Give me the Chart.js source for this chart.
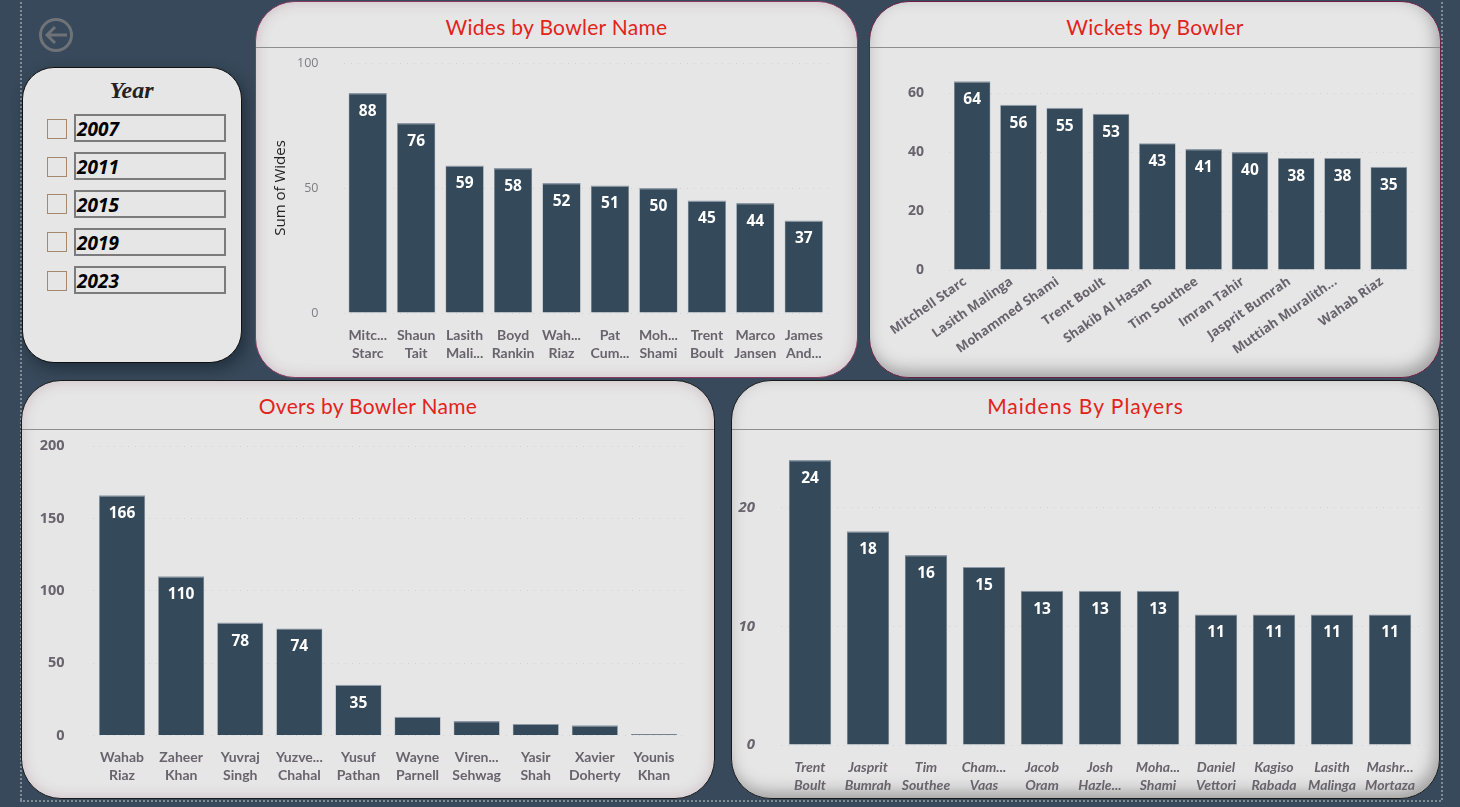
<!DOCTYPE html>
<html><head><meta charset="utf-8">
<script src="https://cdn.jsdelivr.net/npm/chart.js@4"></script>
<style>
html,body{margin:0;padding:0;width:1460px;height:807px;overflow:hidden;background:#37495a}
.dot{position:absolute;border:0 dotted #7f8c98}
.panel{position:absolute;background:#e6e6e6;box-sizing:border-box;border-radius:40px;overflow:hidden}
.pink{border:1px solid #8a3a60;box-shadow:inset 0 0 14px rgba(130,70,100,.26)}
.grey{border:1px solid #6d1f45;box-shadow:inset -4px -6px 16px rgba(60,60,60,.42)}
.black{border:1px solid #1a1a1a}
.title{position:absolute;left:0;right:0;top:0;height:45px;text-align:center;color:#e2231a;font:21px/50px "Lato",sans-serif;letter-spacing:.3px;border-bottom:1px solid #8e8e8e}
canvas{position:absolute}
#slicer{position:absolute;left:21.5px;top:66.5px;width:220px;height:296px;box-sizing:border-box;background:#e6e6e6;border:1px solid #111;border-radius:32px;box-shadow:4px 6px 14px rgba(20,30,40,.55)}
#yr{position:absolute;left:0;right:0;top:9px;text-align:center;font:italic bold 24px "Liberation Serif",serif;color:#222}
.cb{position:absolute;width:18px;height:18px;border:1px solid #a5896f;left:24px;box-sizing:content-box}
.yb{position:absolute;left:51.5px;width:152px;height:28px;box-sizing:border-box;border:2px solid #7b7b7b;font:italic bold 19px/27px "Open Sans",sans-serif;color:#000;padding-left:1px}
</style></head><body>
<div class="dot" style="left:20px;top:2px;height:798px;border-left-width:2px"></div>
<div class="dot" style="left:20px;top:800px;width:1421px;border-top-width:2px"></div>
<div class="dot" style="left:1441px;top:2px;height:798px;border-left-width:2px"></div>
<svg style="position:absolute;left:38px;top:17px" width="36" height="36" viewBox="0 0 36 36" fill="none" stroke="#6f7378" stroke-width="3"><circle cx="18" cy="18" r="15.5"/><path d="M29 18H9M17 10l-8 8 8 8"/></svg>
<div id="slicer"><div id="yr">Year</div></div>
<div class="panel pink" style="left:255px;top:1px;width:603px;height:377px"><div class="title">Wides by Bowler Name</div></div>
<div class="panel grey" style="left:869px;top:1px;width:572px;height:377px"><div class="title">Wickets by Bowler</div></div>
<div class="panel pink black" style="left:21px;top:380px;width:694px;height:419px"><div class="title" style="height:48px;line-height:50px">Overs by Bowler Name</div></div>
<div class="panel grey black" style="left:731px;top:380px;width:709px;height:419px"><div class="title" style="height:48px;line-height:50px;letter-spacing:1px">Maidens By Players</div></div>
<canvas id="c1" style="left:256px;top:49px"></canvas>
<canvas id="c2" style="left:870px;top:49px"></canvas>
<canvas id="c3" style="left:22px;top:431px"></canvas>
<canvas id="c4" style="left:732px;top:431px"></canvas>
<script>
const years=["2007","2011","2015","2019","2023"];
const widesLabels=[["Mitc...","Starc"],["Shaun","Tait"],["Lasith","Mali..."],["Boyd","Rankin"],["Wah...","Riaz"],["Pat","Cum..."],["Moh...","Shami"],["Trent","Boult"],["Marco","Jansen"],["James","And..."]];
const widesValues=[88,76,59,58,52,51,50,45,44,37];
const wicketsLabels=["Mitchell Starc","Lasith Malinga","Mohammed Shami","Trent Boult","Shakib Al Hasan","Tim Southee","Imran Tahir","Jasprit Bumrah","Muttiah Muralith...","Wahab Riaz"];
const wicketsValues=[64,56,55,53,43,41,40,38,38,35];
const oversLabels=[["Wahab","Riaz"],["Zaheer","Khan"],["Yuvraj","Singh"],["Yuzve...","Chahal"],["Yusuf","Pathan"],["Wayne","Parnell"],["Viren...","Sehwag"],["Yasir","Shah"],["Xavier","Doherty"],["Younis","Khan"]];
const oversValues=[166,110,78,74,35,13,10,8,7,1];
const maidensLabels=[["Trent","Boult"],["Jasprit","Bumrah"],["Tim","Southee"],["Cham...","Vaas"],["Jacob","Oram"],["Josh","Hazle..."],["Moha...","Shami"],["Daniel","Vettori"],["Kagiso","Rabada"],["Lasith","Malinga"],["Mashr...","Mortaza"]];
const maidensValues=[24,18,16,15,13,13,13,11,11,11,11];

const sl=document.getElementById('slicer');
const boxTops=[46,84,122,160,198], cbTops=[51,89,126,164,203];
years.forEach((y,i)=>{
  const c=document.createElement('div');c.className='cb';c.style.top=cbTops[i]+'px';sl.appendChild(c);
  const b=document.createElement('div');b.className='yb';b.style.top=boxTops[i]+'px';b.textContent=y;sl.appendChild(b);
});

const insideLabels={id:'insideLabels',afterDatasetsDraw(ch,a,o){
  const c=ch.ctx;c.save();c.fillStyle='#fff';c.font='bold 15.5px "Open Sans",sans-serif';c.textAlign='center';c.textBaseline='middle';
  ch.getDatasetMeta(0).data.forEach((el,i)=>{
    const v=ch.data.datasets[0].data[i];
    if(v>=(o.minShow||0))c.fillText(v,el.x,el.y+18.5);
  });c.restore();
}};
Chart.register(insideLabels);

function zeroPad(s){s.paddingTop=0;s.paddingBottom=0;s.paddingLeft=0;s.paddingRight=0}
function make(id,labels,values,g){
  const el=document.getElementById(id);
  el.width=g.w;el.height=g.h;el.style.width=g.w+'px';el.style.height=g.h+'px';
  new Chart(el,{type:'bar',
    data:{labels:labels,datasets:[{data:values,backgroundColor:'#34495a',borderColor:'#8d99a6',borderWidth:{top:1.2,left:.6,right:.6,bottom:0},categoryPercentage:g.pct,barPercentage:1}]},
    options:{responsive:false,animation:false,
      layout:{padding:{left:0,top:g.top,right:g.right,bottom:0}},
      plugins:{legend:{display:false},tooltip:{enabled:false},insideLabels:{minShow:g.minShow||0}},
      scales:{
        x:{grid:{display:false,drawTicks:false},border:{display:false},
           ticks:{color:'#68636c',font:g.xFont,padding:g.xPad,autoSkip:false,maxRotation:g.rot||0,minRotation:g.rot||0,labelOffset:g.lo||0},
           afterFit(s){s.height=g.xh;zeroPad(s)}},
        y:{min:0,max:g.max,grid:{color:'rgba(140,140,140,.22)',lineWidth:1,drawTicks:false},border:{display:false,dash:[1,6]},
           ticks:{stepSize:g.step,color:g.yColor||'#68636c',font:g.yFont,padding:g.yPad},
           afterBuildTicks(s){s.ticks=s.ticks.filter(t=>t.value%g.step===0)},
           title:g.yTitle?{display:true,text:g.yTitle,color:'#222',font:{family:'"Open Sans"',size:15},padding:{top:g.titleTop,bottom:0}}:{display:false},
           afterFit(s){s.width=g.yw;zeroPad(s)}}
      }}});
}
const bold13={family:'"Open Sans",sans-serif',size:13,weight:'bold'};
const lato={family:'Lato,sans-serif',size:14,weight:'bold',lineHeight:1.27};
make('c1',widesLabels,widesValues,{w:600,h:328,top:14,right:28,xh:64,yw:87.5,max:100,step:50,pct:.79,xFont:lato,xPad:14,yFont:{family:'"Open Sans",sans-serif',size:12.5},yColor:'#7d7d84',yPad:25,yTitle:'Sum of Wides',titleTop:16});
make('c2',wicketsLabels,wicketsValues,{w:570,h:328,top:14.5,right:28,xh:107,yw:79,max:70,step:20,pct:.79,xFont:bold13,xPad:4,rot:35,lo:-7,yFont:{family:'"Open Sans",sans-serif',size:14,weight:'bold'},yPad:25});
make('c3',oversLabels,oversValues,{w:691,h:367,top:15,right:29.5,xh:62.5,yw:70.5,max:200,step:50,pct:.78,xFont:lato,xPad:13,yFont:{family:'"Open Sans",sans-serif',size:14.5,weight:'bold'},yPad:28,minShow:30});
make('c4',maidensLabels,maidensValues,{w:706,h:367,top:29,right:19,xh:53,yw:49,max:24,step:10,pct:.73,xFont:{family:'Lato,sans-serif',size:14,weight:'bold',style:'italic',lineHeight:1.27},xPad:14,yFont:{family:'"Open Sans",sans-serif',size:15,weight:'bold',style:'italic'},yPad:26});
</script></body></html>
